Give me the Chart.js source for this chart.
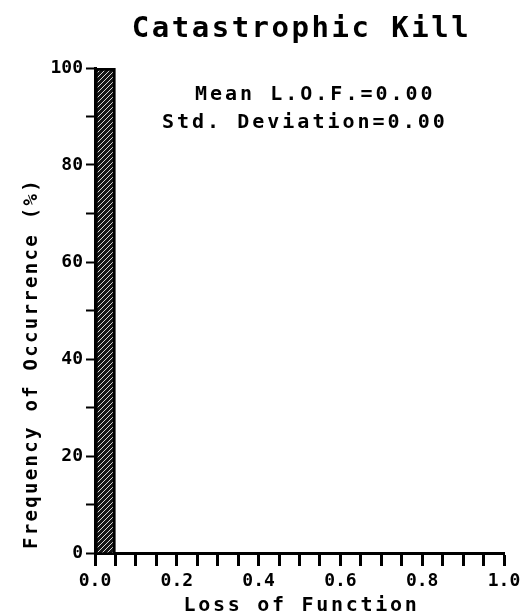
<!DOCTYPE html>
<html>
<head>
<meta charset="utf-8">
<script src="https://cdn.jsdelivr.net/npm/chart.js@4.4.0/dist/chart.umd.min.js"></script>
<style>
  html, body { margin: 0; padding: 0; background: #fff; }
  #wrap { width: 532px; height: 616px; }
</style>
</head>
<body>
<div id="wrap"><canvas id="canvas" width="532" height="616"></canvas></div>
<script>
// bins of the histogram (centre of each 0.05 bin)
let binCenters = [0.025, 0.075, 0.125, 0.175, 0.225, 0.275, 0.325, 0.375, 0.425, 0.475,
                  0.525, 0.575, 0.625, 0.675, 0.725, 0.775, 0.825, 0.875, 0.925, 0.975];
// frequency in % for each bin
let frequency = [100, 0, 0, 0, 0, 0, 0, 0, 0, 0, 0, 0, 0, 0, 0, 0, 0, 0, 0, 0];

let chartTitle = "Catastrophic Kill";
let statsLines = ["Mean L.O.F.=0.00", "Std. Deviation=0.00"];
let xTitle = "Loss of Function";
let yTitle = "Frequency of Occurrence (%)";

var ctx = document.getElementById('canvas').getContext('2d');

// hatch pattern of the bar
function makeHatch() {
  let c = document.createElement('canvas');
  c.width = 5; c.height = 5;
  let g = c.getContext('2d');
  g.fillStyle = '#151515';
  g.fillRect(0, 0, 5, 5);
  g.strokeStyle = '#d8d8d8';
  g.lineWidth = 1;
  g.beginPath();
  g.moveTo(0, 5); g.lineTo(5, 0);
  g.moveTo(-1, 1); g.lineTo(1, -1);
  g.moveTo(4, 6); g.lineTo(6, 4);
  g.stroke();
  return ctx.createPattern(c, 'repeat');
}

const mono = "'DejaVu Sans Mono', monospace";

// textes dessines a la main (letter spacing)
const textPlugin = {
  id: 'texts',
  afterDraw(chart) {
    const c = chart.ctx;
    const a = chart.chartArea;
    c.save();
    c.fillStyle = '#000';
    c.textBaseline = 'alphabetic';

    c.font = "bold 29px " + mono;
    c.letterSpacing = '2.5px';
    c.textAlign = 'center';
    c.fillText(chartTitle, (a.left + a.right) / 2 + 2, 37);

    c.font = "bold 20px " + mono;
    c.letterSpacing = '3px';
    c.textAlign = 'left';
    c.fillText(statsLines[0], 195, 100);
    c.fillText(statsLines[1], 162, 128);

    c.letterSpacing = '2.7px';
    c.textAlign = 'center';
    c.fillText(xTitle, (a.left + a.right) / 2 + 2, 611);

    c.font = "bold 19px " + mono;
    c.letterSpacing = '2.3px';
    c.translate(37, 549);
    c.rotate(-Math.PI / 2);
    c.textAlign = 'left';
    c.fillText(yTitle, 0, 0);
    c.restore();
  }
};

var chart = new Chart(ctx, {
  type: 'bar',
  data: {
    datasets: [{
      data: binCenters.map((x, i) => ({ x: x, y: frequency[i] })),
      backgroundColor: makeHatch(),
      borderColor: '#000',
      borderWidth: 3,
      borderSkipped: 'bottom',
      barPercentage: 1,
      categoryPercentage: 1
    }]
  },
  options: {
    responsive: false,
    animation: false,
    layout: { padding: { top: 68, right: 28, left: 0, bottom: 0 } },
    plugins: {
      legend: { display: false },
      title: { display: false },
      tooltip: { enabled: false }
    },
    scales: {
      x: {
        type: 'linear',
        min: 0,
        max: 1,
        offset: false,
        afterFit: (s) => { s.height = 63; },
        border: { display: true, color: '#000', width: 3 },
        grid: { offset: false, drawOnChartArea: false, drawTicks: true, tickLength: 13, tickWidth: 3, tickColor: '#000' },
        ticks: {
          stepSize: 0.05,
          autoSkip: false,
          maxRotation: 0,
          padding: 5,
          color: '#000',
          font: { family: mono, size: 18, weight: 'bold' },
          callback: (v) => (Math.round(v * 100) % 20 === 0 ? v.toFixed(1) : '')
        }
      },
      y: {
        min: 0,
        max: 100,
        afterFit: (s) => { s.width = 95; },
        border: { display: true, color: '#000', width: 3 },
        grid: { drawOnChartArea: false, drawTicks: true, tickLength: 9, tickWidth: 2, tickColor: '#000' },
        ticks: {
          stepSize: 10,
          autoSkip: false,
          padding: 3,
          color: '#000',
          font: { family: mono, size: 18, weight: 'bold' },
          callback: (v) => (v % 20 === 0 ? v : '')
        }
      }
    }
  },
  plugins: [textPlugin]
});
</script>
</body>
</html>
